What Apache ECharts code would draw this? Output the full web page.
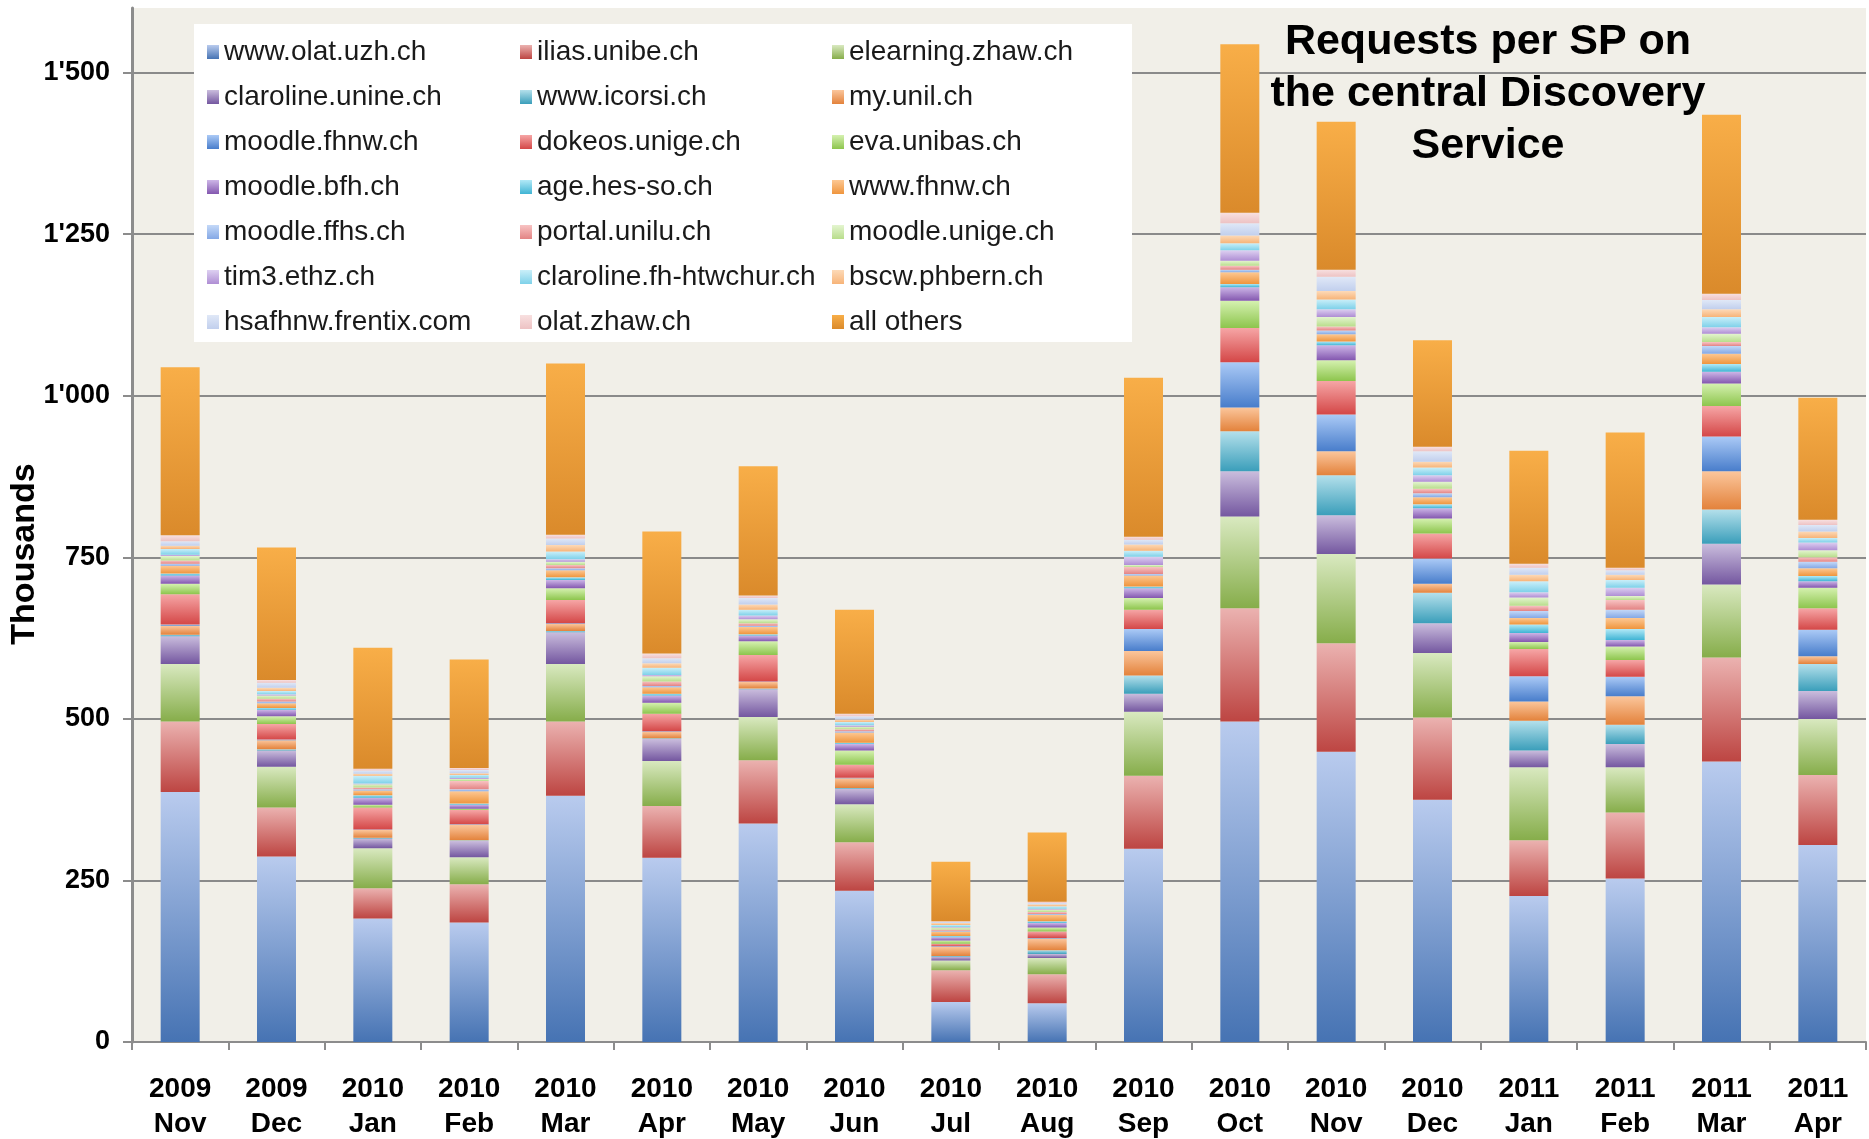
<!DOCTYPE html>
<html>
<head>
<meta charset="utf-8">
<script src="https://cdn.jsdelivr.net/npm/echarts@6/dist/echarts.min.js"></script>
<style>
html,body{margin:0;padding:0;background:#ffffff;}
#chart{width:1869px;height:1139px;}
</style>
</head>
<body>
<div id="chart"></div>
<script>
// ---- categories & tick labels ----
const months = ['2009\nNov','2009\nDec','2010\nJan','2010\nFeb','2010\nMar','2010\nApr','2010\nMay','2010\nJun','2010\nJul','2010\nAug','2010\nSep','2010\nOct','2010\nNov','2010\nDec','2011\nJan','2011\nFeb','2011\nMar','2011\nApr'];
const yTickLabels = ['0','250','500','750',"1'000","1'250","1'500"];

// ---- series values (thousands of requests) ----
const olatUzh     = [387, 287, 191, 185, 381, 285, 338, 234, 62, 60, 299, 496, 449, 375, 226, 253, 434, 305];
const iliasUnibe  = [109, 76, 47, 59, 115, 80, 98, 75, 49, 45, 113, 175, 168, 127, 86, 102, 161, 108];
const elearningZhaw = [89, 63, 62, 42, 89, 70, 67, 59, 15, 25, 99, 142, 138, 100, 113, 70, 113, 87];
const clarolineUnine = [43, 25, 15, 25, 49, 34, 43, 24, 6, 6, 28, 70, 60, 46, 26, 36, 63, 43];
const icorsi      = [2, 2, 1, 1, 2, 1, 1, 1, 1, 6, 28, 62, 62, 47, 46, 30, 53, 42];
const myUnil      = [14, 14, 12, 24, 11, 10, 10, 15, 14, 18, 38, 37, 37, 14, 30, 44, 59, 12];
const moodleFhnw  = [2, 1, 1, 1, 1, 1, 1, 1, 1, 1, 34, 70, 57, 39, 39, 30, 54, 41];
const dokeosUnige = [47, 24, 34, 22, 36, 27, 41, 20, 4, 10, 30, 53, 52, 39, 42, 26, 47, 33];
const evaUnibas   = [16, 12, 4, 2, 18, 17, 21, 22, 5, 6, 18, 42, 32, 23, 11, 21, 35, 32];
const moodleBfh   = [13, 10, 11, 6, 13, 11, 9, 10, 5, 7, 15, 21, 23, 16, 14, 10, 18, 10];
const ageHesSo    = [3, 3, 4, 2, 4, 3, 2, 2, 2, 3, 3, 5, 6, 6, 13, 17, 12, 8];
const wwwFhnw     = [12, 7, 7, 19, 11, 10, 11, 16, 7, 10, 17, 18, 11, 11, 10, 17, 16, 12];
const moodleFfhs  = [3, 3, 2, 3, 3, 2, 2, 2, 1, 1, 2, 4, 6, 6, 11, 13, 12, 10];
const portalUnilu = [5, 4, 3, 13, 5, 7, 4, 3, 2, 3, 11, 6, 6, 7, 8, 15, 6, 7];
const moodleUnige = [7, 5, 5, 3, 5, 8, 6, 4, 3, 4, 3, 8, 15, 11, 13, 6, 13, 11];
const tim3Ethz    = [2, 2, 1, 2, 4, 2, 6, 2, 1, 1, 13, 16, 12, 10, 8, 13, 10, 12];
const clarolineChur = [9, 5, 12, 4, 12, 11, 9, 5, 3, 4, 9, 11, 15, 12, 17, 12, 16, 7];
const bscwPhbern  = [5, 5, 3, 3, 10, 7, 8, 4, 3, 3, 10, 12, 13, 9, 10, 8, 12, 10];
const hsafhnwFrentix = [7, 8, 5, 5, 10, 8, 10, 5, 2, 2, 7, 19, 22, 16, 11, 7, 14, 10];
const olatZhaw    = [9, 4, 3, 3, 6, 7, 4, 4, 1, 2, 5, 16, 11, 7, 6, 4, 10, 8];
const allOthers   = [260, 205, 187, 168, 265, 189, 200, 161, 92, 107, 246, 261, 229, 165, 175, 209, 277, 189];

const seriesNames = ['www.olat.uzh.ch','ilias.unibe.ch','elearning.zhaw.ch','claroline.unine.ch','www.icorsi.ch','my.unil.ch','moodle.fhnw.ch','dokeos.unige.ch','eva.unibas.ch','moodle.bfh.ch','age.hes-so.ch','www.fhnw.ch','moodle.ffhs.ch','portal.unilu.ch','moodle.unige.ch','tim3.ethz.ch','claroline.fh-htwchur.ch','bscw.phbern.ch','hsafhnw.frentix.com','olat.zhaw.ch','all others'];
const seriesValues = [olatUzh, iliasUnibe, elearningZhaw, clarolineUnine, icorsi, myUnil, moodleFhnw, dokeosUnige, evaUnibas, moodleBfh, ageHesSo, wwwFhnw, moodleFfhs, portalUnilu, moodleUnige, tim3Ethz, clarolineChur, bscwPhbern, hsafhnwFrentix, olatZhaw, allOthers];

// ---- styles: [top colour, bottom colour] of each gradient ----
const seriesColors = [
  ['#b9cbee','#4673b3'], ['#ebb2b0','#bd4542'], ['#d9e9c0','#86ad4a'], ['#cabddd','#7457a0'],
  ['#b4e0eb','#3a9eba'], ['#fbc69c','#e3823b'], ['#abcaf6','#487dcb'], ['#f6a6a6','#d44747'],
  ['#d5f1b0','#8dc54d'], ['#cdb6e7','#8357af'], ['#b2e9f7','#40b4d4'], ['#fdc893','#ef953d'],
  ['#c4d9f8','#84a8e5'], ['#f8c3c3','#e38484'], ['#e4f5d0','#b8dd8b'], ['#ddd0f1','#af8ed4'],
  ['#caeff9','#7ed1e9'], ['#fddab8','#f7b479'], ['#e0e8f7','#c1cfed'], ['#f8e0e0','#edc2c3'],
  ['#f8ae48','#da8a2b']
];

const FONT = 'Liberation Sans, Arial, sans-serif';
const chart = echarts.init(document.getElementById('chart'), null, {renderer: 'canvas'});

const series = seriesNames.map((name, i) => ({
  name: name,
  type: 'bar',
  stack: 'total',
  barWidth: 39,
  data: seriesValues[i],
  itemStyle: {
    color: new echarts.graphic.LinearGradient(0, 0, 0, 1, [
      {offset: 0, color: seriesColors[i][0]},
      {offset: 1, color: seriesColors[i][1]}
    ])
  },
  emphasis: {disabled: true}
}));

function legendCol(col, left) {
  const names = seriesNames.filter((n, i) => i % 3 === col);
  return {
    orient: 'vertical',
    left: left,
    top: 32,
    itemWidth: 12,
    itemHeight: 14,
    itemGap: 15,
    icon: 'rect',
    data: names,
    selectedMode: false,
    textStyle: {fontFamily: FONT, fontSize: 28, lineHeight: 30, color: '#1a1a1a'}
  };
}

const option = {
  animation: false,
  backgroundColor: '#ffffff',
  grid: {
    left: 132, right: 3, top: 8, bottom: 97,
    outerBoundsMode: 'none',
    containLabel: false,
    show: true, backgroundColor: '#f1efe8', borderWidth: 0
  },
  legend: [legendCol(0, 202), legendCol(1, 515), legendCol(2, 827)],
  graphic: [
    {type: 'rect', z: 1, shape: {x: 194, y: 24, width: 938, height: 318}, style: {fill: '#ffffff'}},
    {type: 'text', z: 5, x: 1488, y: 16, style: {
      text: 'Requests per SP on\nthe central Discovery\nService',
      fontFamily: FONT, fontSize: 43, fontWeight: 'bold',
      lineHeight: 52, fill: '#000000', align: 'center', verticalAlign: 'top'
    }},
    {type: 'text', z: 5, x: 25, y: 554, rotation: Math.PI / 2, style: {
      text: 'Thousands',
      fontFamily: FONT, fontSize: 34, fontWeight: 'bold',
      fill: '#000000', align: 'center', verticalAlign: 'middle'
    }}
  ],
  xAxis: {
    type: 'category',
    data: months,
    axisLine: {lineStyle: {color: '#8c8c8c', width: 2}},
    axisTick: {show: true, length: 8, lineStyle: {color: '#8c8c8c', width: 2}},
    axisLabel: {
      margin: 30, fontFamily: FONT, fontSize: 28,
      fontWeight: 'bold', lineHeight: 35, color: '#000000'
    }
  },
  yAxis: {
    type: 'value',
    min: 0, max: 1600, interval: 250,
    axisLine: {show: true, lineStyle: {color: '#8c8c8c', width: 3}},
    axisTick: {show: true, length: 9, lineStyle: {color: '#8c8c8c', width: 2}},
    axisLabel: {
      showMaxLabel: false,
      margin: 22, fontFamily: FONT, fontSize: 27,
      fontWeight: 'bold', color: '#000000',
      formatter: v => (v % 250 === 0 ? yTickLabels[v / 250] : '')
    },
    splitLine: {show: true, showMaxLine: false, lineStyle: {color: '#8a8a8a', width: 2}}
  },
  series: series
};

chart.setOption(option);
</script>
</body>
</html>
